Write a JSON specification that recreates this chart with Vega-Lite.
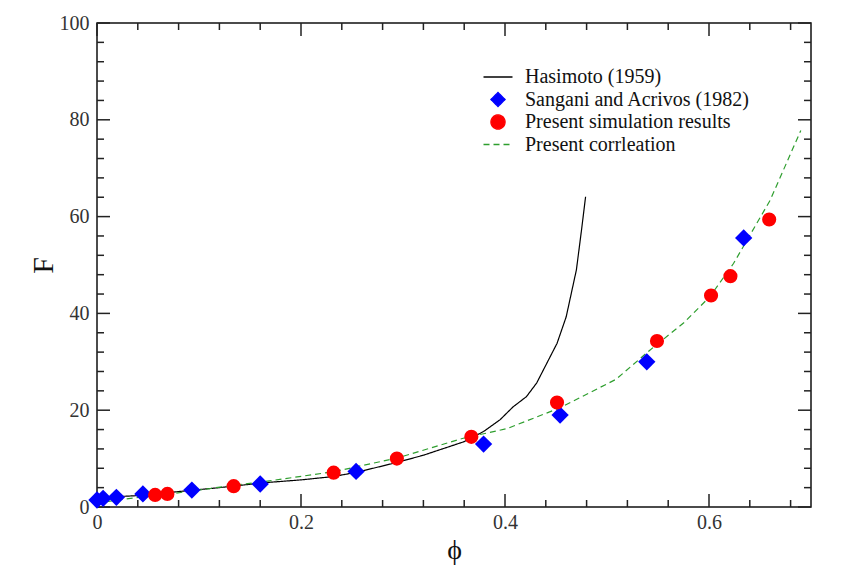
{
  "$schema": "https://vega.github.io/schema/vega-lite/v6.json",
  "width": 714,
  "height": 484,
  "autosize": "none",
  "padding": {"left": 97, "top": 23, "right": 33, "bottom": 58},
  "background": "white",
  "config": {
    "view": {"stroke": "#111", "strokeWidth": 1.5},
    "font": "Liberation Serif",
    "legend": {"labelFont": "Liberation Serif", "labelFontSize": 20, "labelColor": "#111", "labelLimit": 400}
  },
  "datasets": {
    "xticks": [
      {"phi": 0.0, "kind": "major"}, {"phi": 0.04, "kind": "minor"}, {"phi": 0.08, "kind": "minor"}, {"phi": 0.12, "kind": "minor"}, {"phi": 0.16, "kind": "minor"},
      {"phi": 0.2, "kind": "major"}, {"phi": 0.24, "kind": "minor"}, {"phi": 0.28, "kind": "minor"}, {"phi": 0.32, "kind": "minor"}, {"phi": 0.36, "kind": "minor"},
      {"phi": 0.4, "kind": "major"}, {"phi": 0.44, "kind": "minor"}, {"phi": 0.48, "kind": "minor"}, {"phi": 0.52, "kind": "minor"}, {"phi": 0.56, "kind": "minor"},
      {"phi": 0.6, "kind": "major"}, {"phi": 0.64, "kind": "minor"}, {"phi": 0.68, "kind": "minor"}
    ],
    "yticks": [
      {"F": 0, "kind": "major"}, {"F": 4, "kind": "minor"}, {"F": 8, "kind": "minor"}, {"F": 12, "kind": "minor"}, {"F": 16, "kind": "minor"},
      {"F": 20, "kind": "major"}, {"F": 24, "kind": "minor"}, {"F": 28, "kind": "minor"}, {"F": 32, "kind": "minor"}, {"F": 36, "kind": "minor"},
      {"F": 40, "kind": "major"}, {"F": 44, "kind": "minor"}, {"F": 48, "kind": "minor"}, {"F": 52, "kind": "minor"}, {"F": 56, "kind": "minor"},
      {"F": 60, "kind": "major"}, {"F": 64, "kind": "minor"}, {"F": 68, "kind": "minor"}, {"F": 72, "kind": "minor"}, {"F": 76, "kind": "minor"},
      {"F": 80, "kind": "major"}, {"F": 84, "kind": "minor"}, {"F": 88, "kind": "minor"}, {"F": 92, "kind": "minor"}, {"F": 96, "kind": "minor"},
      {"F": 100, "kind": "major"}
    ],
    "curves": [
      {"series": "Hasimoto (1959)", "phi": 0.0, "F": 1.4},
      {"series": "Hasimoto (1959)", "phi": 0.006, "F": 2.1},
      {"series": "Hasimoto (1959)", "phi": 0.025, "F": 2.2},
      {"series": "Hasimoto (1959)", "phi": 0.045, "F": 2.4},
      {"series": "Hasimoto (1959)", "phi": 0.071, "F": 3.0},
      {"series": "Hasimoto (1959)", "phi": 0.12, "F": 4.0},
      {"series": "Hasimoto (1959)", "phi": 0.163, "F": 5.0},
      {"series": "Hasimoto (1959)", "phi": 0.2, "F": 5.6},
      {"series": "Hasimoto (1959)", "phi": 0.232, "F": 6.3},
      {"series": "Hasimoto (1959)", "phi": 0.255, "F": 7.2},
      {"series": "Hasimoto (1959)", "phi": 0.294, "F": 9.2},
      {"series": "Hasimoto (1959)", "phi": 0.32, "F": 10.7},
      {"series": "Hasimoto (1959)", "phi": 0.36, "F": 13.5},
      {"series": "Hasimoto (1959)", "phi": 0.379, "F": 15.6},
      {"series": "Hasimoto (1959)", "phi": 0.395, "F": 18.0},
      {"series": "Hasimoto (1959)", "phi": 0.408, "F": 20.7},
      {"series": "Hasimoto (1959)", "phi": 0.421, "F": 22.8},
      {"series": "Hasimoto (1959)", "phi": 0.431, "F": 25.6},
      {"series": "Hasimoto (1959)", "phi": 0.451, "F": 33.8},
      {"series": "Hasimoto (1959)", "phi": 0.46, "F": 39.3},
      {"series": "Hasimoto (1959)", "phi": 0.47, "F": 49.0},
      {"series": "Hasimoto (1959)", "phi": 0.475, "F": 57.2},
      {"series": "Hasimoto (1959)", "phi": 0.479, "F": 64.1},
      {"series": "Present corrleation", "phi": 0.0, "F": 0.8},
      {"series": "Present corrleation", "phi": 0.025, "F": 1.6},
      {"series": "Present corrleation", "phi": 0.075, "F": 2.8},
      {"series": "Present corrleation", "phi": 0.124, "F": 4.2},
      {"series": "Present corrleation", "phi": 0.169, "F": 5.4},
      {"series": "Present corrleation", "phi": 0.232, "F": 7.3},
      {"series": "Present corrleation", "phi": 0.294, "F": 10.1},
      {"series": "Present corrleation", "phi": 0.359, "F": 14.2},
      {"series": "Present corrleation", "phi": 0.402, "F": 16.2},
      {"series": "Present corrleation", "phi": 0.454, "F": 20.5},
      {"series": "Present corrleation", "phi": 0.509, "F": 26.4},
      {"series": "Present corrleation", "phi": 0.542, "F": 32.4},
      {"series": "Present corrleation", "phi": 0.575, "F": 38.0},
      {"series": "Present corrleation", "phi": 0.601, "F": 43.5},
      {"series": "Present corrleation", "phi": 0.624, "F": 50.3},
      {"series": "Present corrleation", "phi": 0.66, "F": 63.4},
      {"series": "Present corrleation", "phi": 0.69, "F": 77.8}
    ],
    "points": [
      {"series": "Sangani and Acrivos (1982)", "phi": 0.0, "F": 1.45},
      {"series": "Sangani and Acrivos (1982)", "phi": 0.006, "F": 1.8},
      {"series": "Sangani and Acrivos (1982)", "phi": 0.019, "F": 2.0},
      {"series": "Sangani and Acrivos (1982)", "phi": 0.045, "F": 2.7},
      {"series": "Sangani and Acrivos (1982)", "phi": 0.093, "F": 3.5},
      {"series": "Sangani and Acrivos (1982)", "phi": 0.16, "F": 4.75},
      {"series": "Sangani and Acrivos (1982)", "phi": 0.254, "F": 7.35},
      {"series": "Sangani and Acrivos (1982)", "phi": 0.379, "F": 13.0},
      {"series": "Sangani and Acrivos (1982)", "phi": 0.454, "F": 19.0},
      {"series": "Sangani and Acrivos (1982)", "phi": 0.539, "F": 30.0},
      {"series": "Sangani and Acrivos (1982)", "phi": 0.634, "F": 55.6},
      {"series": "Present simulation results", "phi": 0.057, "F": 2.5},
      {"series": "Present simulation results", "phi": 0.069, "F": 2.7},
      {"series": "Present simulation results", "phi": 0.134, "F": 4.3},
      {"series": "Present simulation results", "phi": 0.232, "F": 7.1},
      {"series": "Present simulation results", "phi": 0.294, "F": 10.0},
      {"series": "Present simulation results", "phi": 0.367, "F": 14.5},
      {"series": "Present simulation results", "phi": 0.451, "F": 21.6},
      {"series": "Present simulation results", "phi": 0.549, "F": 34.3},
      {"series": "Present simulation results", "phi": 0.602, "F": 43.7},
      {"series": "Present simulation results", "phi": 0.621, "F": 47.7},
      {"series": "Present simulation results", "phi": 0.659, "F": 59.4}
    ]
  },
  "layer": [
    {
      "data": {"name": "curves"},
      "transform": [{"filter": "datum.series == 'Hasimoto (1959)'"}],
      "mark": {"type": "line", "strokeWidth": 1.2},
      "encoding": {
        "x": {
          "field": "phi", "type": "quantitative",
          "scale": {"domain": [0, 0.7], "nice": false, "zero": false},
          "axis": {
            "orient": "bottom",
            "values": [0, 0.2, 0.4, 0.6],
            "ticks": false, "domain": false, "grid": false,
            "format": "~g",
            "labelFont": "Liberation Serif", "labelFontSize": 20, "labelColor": "#333",
            "labelPadding": 5, "labelFlush": false, "labelOverlap": false, "labelBound": false,
            "title": "ϕ", "titleFont": "Liberation Serif", "titleFontSize": 28, "titleFontWeight": "normal", "titleColor": "#111", "titlePadding": 4
          }
        },
        "y": {
          "field": "F", "type": "quantitative",
          "scale": {"domain": [0, 100], "nice": false, "zero": false},
          "axis": {
            "orient": "left",
            "values": [0, 20, 40, 60, 80, 100],
            "ticks": false, "domain": false, "grid": false,
            "format": "d",
            "labelFont": "Liberation Serif", "labelFontSize": 20, "labelColor": "#333",
            "labelPadding": 8, "labelFlush": false, "labelOverlap": false, "labelBound": false,
            "title": "F", "titleFont": "Liberation Serif", "titleFontSize": 30, "titleFontWeight": "normal", "titleColor": "#111", "titlePadding": 1
          }
        },
        "color": {
          "field": "series", "type": "nominal",
          "scale": {
            "domain": ["Hasimoto (1959)", "Sangani and Acrivos (1982)", "Present simulation results", "Present corrleation"],
            "range": ["#000000", "#0000ff", "#ff0000", "#2e9e2e"]
          },
          "legend": {
            "title": null, "orient": "none", "legendX": 391, "legendY": 44,
            "symbolSize": 200, "rowPadding": 2.5, "labelOffset": 17,
            "encode": {
              "symbols": {
                "update": {
                  "fill": {"scale": "color", "field": "value"},
                  "stroke": {"scale": "color", "field": "value"},
                  "strokeWidth": {"value": 1.3},
                  "opacity": {"value": 1},
                  "fillOpacity": {"value": 1}
                }
              }
            }
          }
        },
        "strokeDash": {
          "field": "series", "type": "nominal",
          "scale": {
            "domain": ["Hasimoto (1959)", "Sangani and Acrivos (1982)", "Present simulation results", "Present corrleation"],
            "range": [[1, 0], [1, 0], [1, 0], [6, 4]]
          },
          "legend": {"title": null, "orient": "none", "legendX": 391, "legendY": 44}
        }
      }
    },
    {
      "data": {"name": "xticks"},
      "transform": [{"filter": "datum.kind == 'major'"}],
      "mark": {"type": "rule", "color": "#222", "strokeWidth": 1.5},
      "encoding": {
        "x": {"field": "phi", "type": "quantitative"},
        "y": {"datum": 0, "type": "quantitative"},
        "y2": {"datum": 2.69}
      }
    },
    {
      "data": {"name": "xticks"},
      "transform": [{"filter": "datum.kind == 'minor'"}],
      "mark": {"type": "rule", "color": "#222", "strokeWidth": 1.5},
      "encoding": {
        "x": {"field": "phi", "type": "quantitative"},
        "y": {"datum": 0, "type": "quantitative"},
        "y2": {"datum": 1.45}
      }
    },
    {
      "data": {"name": "xticks"},
      "transform": [{"filter": "datum.kind == 'major'"}],
      "mark": {"type": "rule", "color": "#222", "strokeWidth": 1.5},
      "encoding": {
        "x": {"field": "phi", "type": "quantitative"},
        "y": {"datum": 100, "type": "quantitative"},
        "y2": {"datum": 97.31}
      }
    },
    {
      "data": {"name": "xticks"},
      "transform": [{"filter": "datum.kind == 'minor'"}],
      "mark": {"type": "rule", "color": "#222", "strokeWidth": 1.5},
      "encoding": {
        "x": {"field": "phi", "type": "quantitative"},
        "y": {"datum": 100, "type": "quantitative"},
        "y2": {"datum": 98.55}
      }
    },
    {
      "data": {"name": "yticks"},
      "transform": [{"filter": "datum.kind == 'major'"}],
      "mark": {"type": "rule", "color": "#222", "strokeWidth": 1.5},
      "encoding": {
        "y": {"field": "F", "type": "quantitative"},
        "x": {"datum": 0, "type": "quantitative"},
        "x2": {"datum": 0.01275}
      }
    },
    {
      "data": {"name": "yticks"},
      "transform": [{"filter": "datum.kind == 'minor'"}],
      "mark": {"type": "rule", "color": "#222", "strokeWidth": 1.5},
      "encoding": {
        "y": {"field": "F", "type": "quantitative"},
        "x": {"datum": 0, "type": "quantitative"},
        "x2": {"datum": 0.00686}
      }
    },
    {
      "data": {"name": "yticks"},
      "transform": [{"filter": "datum.kind == 'major'"}],
      "mark": {"type": "rule", "color": "#222", "strokeWidth": 1.5},
      "encoding": {
        "y": {"field": "F", "type": "quantitative"},
        "x": {"datum": 0.7, "type": "quantitative"},
        "x2": {"datum": 0.68725}
      }
    },
    {
      "data": {"name": "yticks"},
      "transform": [{"filter": "datum.kind == 'minor'"}],
      "mark": {"type": "rule", "color": "#222", "strokeWidth": 1.5},
      "encoding": {
        "y": {"field": "F", "type": "quantitative"},
        "x": {"datum": 0.7, "type": "quantitative"},
        "x2": {"datum": 0.69314}
      }
    },
    {
      "data": {"name": "curves"},
      "transform": [{"filter": "datum.series == 'Present corrleation'"}],
      "mark": {"type": "line", "strokeWidth": 1.2},
      "encoding": {
        "x": {"field": "phi", "type": "quantitative"},
        "y": {"field": "F", "type": "quantitative"},
        "color": {"field": "series", "type": "nominal", "legend": {"title": null, "orient": "none", "legendX": 391, "legendY": 44}},
        "strokeDash": {"field": "series", "type": "nominal", "legend": {"title": null, "orient": "none", "legendX": 391, "legendY": 44}}
      }
    },
    {
      "data": {"name": "points"},
      "transform": [{"filter": "datum.series == 'Sangani and Acrivos (1982)'"}],
      "mark": {"type": "point", "filled": true, "opacity": 1, "size": 300},
      "encoding": {
        "x": {"field": "phi", "type": "quantitative"},
        "y": {"field": "F", "type": "quantitative"},
        "color": {"field": "series", "type": "nominal", "legend": {"title": null, "orient": "none", "legendX": 391, "legendY": 44}},
        "shape": {
          "field": "series", "type": "nominal",
          "scale": {
            "domain": ["Hasimoto (1959)", "Sangani and Acrivos (1982)", "Present simulation results", "Present corrleation"],
            "range": ["M-2.05,0H2.05", "diamond", "circle", "M-2.05,0H2.05"]
          },
          "legend": {"title": null, "orient": "none", "legendX": 391, "legendY": 44}
        }
      }
    },
    {
      "data": {"name": "points"},
      "transform": [{"filter": "datum.series == 'Present simulation results'"}],
      "mark": {"type": "point", "filled": true, "opacity": 1, "size": 200},
      "encoding": {
        "x": {"field": "phi", "type": "quantitative"},
        "y": {"field": "F", "type": "quantitative"},
        "color": {"field": "series", "type": "nominal", "legend": {"title": null, "orient": "none", "legendX": 391, "legendY": 44}},
        "shape": {"field": "series", "type": "nominal", "legend": {"title": null, "orient": "none", "legendX": 391, "legendY": 44}}
      }
    }
  ]
}
